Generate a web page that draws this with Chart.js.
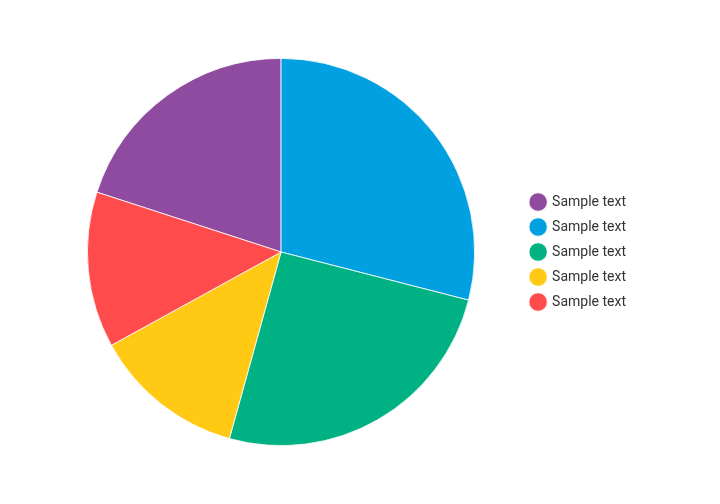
<!DOCTYPE html>
<html>
<head>
<meta charset="utf-8">
<script src="https://cdn.jsdelivr.net/npm/chart.js@4/dist/chart.umd.min.js"></script>
<style>
  html, body { margin: 0; padding: 0; background: #fff; }
  #wrap { width: 720px; height: 504px; }
</style>
</head>
<body>
<div id="wrap"><canvas id="chart" width="720" height="504"></canvas></div>
<script>
var labels = ["Sample text", "Sample text", "Sample text", "Sample text", "Sample text"]
var values = [20, 29, 25.3, 12.7, 13]
var colors = ["#8E4B9F", "#01A0E1", "#00B283", "#FFC914", "#FF4B4B"]

var ctx = document.getElementById("chart")
var pieChart = new Chart(ctx, {
  type: 'pie',
  data: {
    labels: labels,
    datasets: [{
      data: values,
      backgroundColor: colors,
      borderColor: '#ffffff',
      borderWidth: 0.8
    }]
  },
  options: {
    responsive: false,
    animation: false,
    rotation: -72,
    layout: {
      padding: { left: 42, top: 58, bottom: 58, right: 84 }
    },
    plugins: {
      tooltip: { enabled: false },
      legend: {
        position: 'right',
        labels: {
          usePointStyle: true,
          pointStyle: 'circle',
          boxWidth: 14,
          boxHeight: 13,
          padding: 11,
          color: '#333333',
          font: { family: 'Roboto', size: 14 }
        }
      }
    }
  }
})
</script>
</body>
</html>
